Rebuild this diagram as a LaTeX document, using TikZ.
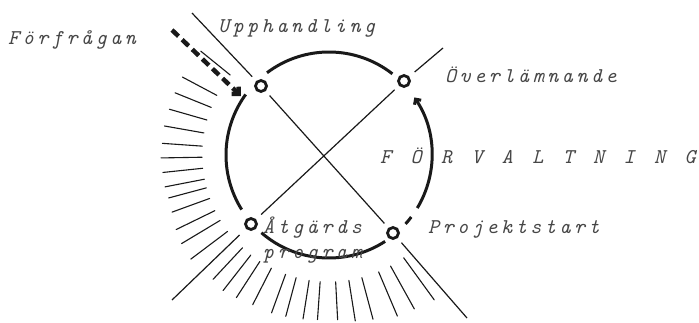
\documentclass[tikz,border=0pt]{standalone}
\usepackage{fontspec}
\newfontfamily\typew{lmmono10-regular.otf}[ItalicFont=lmmono10-italic.otf, LetterSpace=17, WordSpace=1.33]
\usetikzlibrary{arrows.meta}
\definecolor{inkc}{RGB}{25,25,25}
\definecolor{typec}{RGB}{70,70,70}
\newcommand{\Rr}{103}
\newcommand{\Ri}{127}
\begin{document}
\begin{tikzpicture}[x=1pt, y=1pt,
    ring/.style={draw=inkc, line width=3pt},
    stage/.style={circle, draw=inkc, line width=2.8pt, minimum size=11pt, inner sep=0pt},
    cross/.style={draw=inkc, line width=1.2pt},
    hatch/.style={draw=inkc, line width=1.1pt, line cap=round},
    req/.style={draw=inkc, line width=4.5pt, dash pattern=on 9pt off 5pt,
                -{Straight Barb[length=5pt, width=10pt]}},
    tag/.style={font=\fontsize{21}{25}\selectfont\typew\itshape, text=typec, inner sep=0pt},
  ]
  \useasboundingbox (0,0) rectangle (699,322);
  \coordinate (C) at (329,167);

  % --- the four stages on the ring
  \node[stage] (U) at (261,236) {};
  \node[stage] (O) at (404,241) {};
  \node[stage] (A) at (251,98) {};
  \node[stage] (P) at (393,89) {};

  % --- ring, broken at the stages
  \draw[ring] (C) ++(127:\Rr) arc[start angle=127, end angle=52, radius=\Rr];
  \draw[ring] (C) ++(144:\Rr) arc[start angle=144, end angle=212, radius=\Rr];
  \draw[ring] (C) ++(229:\Rr) arc[start angle=229, end angle=303, radius=\Rr];
  \draw[ring] (C) ++(-42:\Rr) arc[start angle=-42, end angle=-37, radius=\Rr];
  \draw[ring, -{Straight Barb[length=4pt, width=8pt]}]
    (C) ++(-31:\Rr) arc[start angle=-31, end angle=34, radius=\Rr];

  % --- the two diagonals through the stages
  \coordinate (d1a) at (192,309);
  \coordinate (d1b) at (467,4);
  \coordinate (d2a) at (443,274);
  \coordinate (d2b) at (172,22);
  \draw[cross, shorten >=6pt] (d1a) -- (U);
  \draw[cross, shorten <=6pt, shorten >=6pt] (U) -- (P);
  \draw[cross, shorten <=6pt] (P) -- (d1b);
  \draw[cross, shorten >=7pt] (d2a) -- (O);
  \draw[cross, shorten <=6pt, shorten >=7pt] (O) -- (A);
  \draw[cross, shorten <=9pt] (A) -- (d2b);

  % --- hatching outside the ring
  \begin{scope}[shift={(C)}]
    \foreach \a/\ro in {141/165, 152/166, 158/166, 164/166, 170/167, 176/167,
                        181/168, 186/167, 191/167, 195/166, 200/167, 206/170,
                        211/172, 217/173, 227/170, 232/172, 237/170, 243/168,
                        250/168, 255/167, 261/166, 266/165, 273/165, 279/168,
                        285/170, 293/175, 299/176, 306/179}
      \draw[hatch] (\a:\Ri) -- (\a:\ro);
  \end{scope}

  % --- request arrow into the first stage
  \coordinate (frq-s) at (172,292);
  \coordinate (frq-e) at (241,226);
  \draw[req] (frq-s) -- (frq-e);

  % --- labels
  \node[tag, anchor=base west] (frq) at (8,277) {Förfrågan};
  \node[tag, anchor=base west] (upp) at (218,289) {Upphandling};
  \node[tag, anchor=base west] (ovl) at (445,239) {Överlämnande};
  \node[tag, anchor=base west] (frv) at (380,159) {F Ö R V A L T N I N G};
  \node[tag, anchor=base west] (prj) at (428,89) {Projektstart};
  \node[tag, anchor=base west, align=left] (atg) at (263,64) {Åtgärds\\program};
\end{tikzpicture}
\end{document}
